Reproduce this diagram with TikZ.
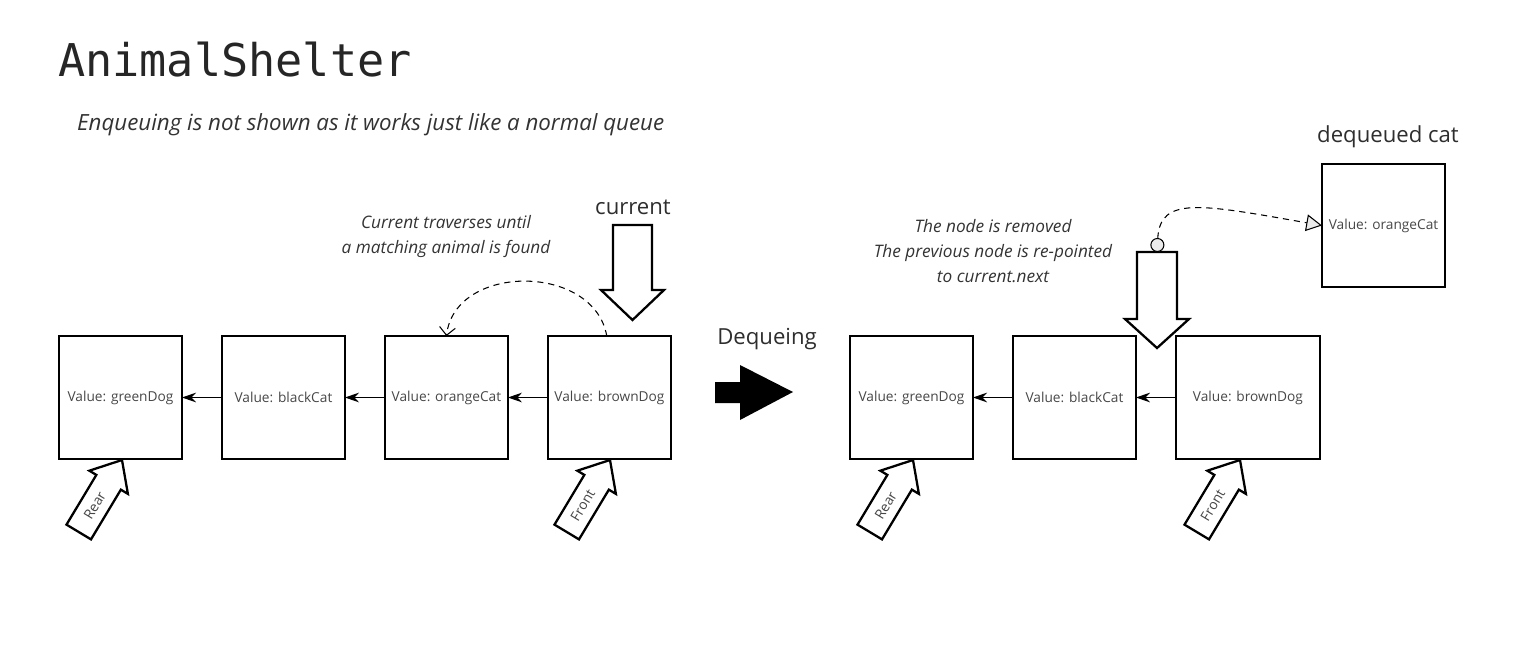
\documentclass[tikz,border=0pt]{standalone}
\usepackage{fontspec}
\setmainfont{Open Sans}
\setmonofont{DejaVu Sans Mono}
\usetikzlibrary{arrows.meta,positioning}

\tikzset{
	cell/.style={draw, line width=1.3pt, minimum width=2.46cm, minimum height=2.46cm,
		inner sep=0pt, outer sep=0pt, font=\fontsize{7.8}{9}\selectfont, text=black!72},
	link/.style={line width=0.6pt, -{Stealth[length=8pt,width=5.5pt]}},
	bigarrow/.style={draw, line width=1.3pt, fill=white, line join=miter},
	tag/.style={font=\fontsize{7.8}{9}\selectfont, text=black!72},
	note/.style={font=\fontsize{9.8}{14.2}\selectfont\itshape, text=black!80, align=center},
	heading/.style={font=\fontsize{12.6}{14}\selectfont, text=black!82},
	dashline/.style={line width=0.6pt, dash pattern=on 3.5pt off 2.8pt},
}

\begin{document}
\begin{tikzpicture}[x=0.02cm, y=0.02cm]
	\useasboundingbox (0,0) rectangle (1527,654);
	%	\draw [help lines, step=50] (0,0) grid (1527,654);
	
	% title and remark
	\node[anchor=base west, font=\ttfamily\fontsize{25.7}{28}\selectfont, text=black!85]
	(title) at (52,578) {AnimalShelter};
	\node[anchor=base west, font=\fontsize{12.7}{14}\selectfont\itshape, text=black!80]
	(remark) at (71,524) {Enqueuing is not shown as it works just like a normal queue};
	
	% queue before dequeing
	\node[cell] (greenDog) at (120.5,256.5) {Value: greenDog};
	\node[cell, right=0.8cm of greenDog] (blackCat) {Value: blackCat};
	\node[cell, right=0.8cm of blackCat] (orangeCat) {Value: orangeCat};
	\node[cell, right=0.8cm of orangeCat] (brownDog) {Value: brownDog};
	\draw[link] (blackCat.west) -- (greenDog.east);
	\draw[link] (orangeCat.west) -- (blackCat.east);
	\draw[link] (brownDog.west) -- (orangeCat.east);
	
	% current pointer (left)
	\draw[bigarrow] (613,429) -- (652,429) -- (652,364) -- (664,364)
	-- (632.5,334) -- (601,364) -- (613,364) -- cycle;
	\node[heading] (current) at (633,447) {current};
	
	% traversal
	\draw[dashline, -{Straight Barb[length=4.5pt,width=9pt]}] ([xshift=-1.5pt]brownDog.north)
	.. controls (594,391) and (455,391) .. (orangeCat.north);
	\node[note] (traverse) at (446,417.5) {Current traverses until\\a matching animal is found};
	
	% rear pointer (left)
	\begin{scope}[shift={(122,194)}, rotate=59]
		\draw[bigarrow] (0,0) -- (-26,22.5) -- (-26,14.3) -- (-84,14.3)
		-- (-84,-14.3) -- (-26,-14.3) -- (-26,-22.5) -- cycle;
		\node[tag, rotate=59] (rearA) at (-53,0) {Rear};
	\end{scope}
	
	% front pointer (left)
	\begin{scope}[shift={(610,194)}, rotate=59]
		\draw[bigarrow] (0,0) -- (-26,22.5) -- (-26,14.3) -- (-84,14.3)
		-- (-84,-14.3) -- (-26,-14.3) -- (-26,-22.5) -- cycle;
		\node[tag, rotate=59] (frontA) at (-53,0) {Front};
	\end{scope}
	
	% dequeing step
	\node[heading] (dequeing) at (767,315) {Dequeing};
	\fill (715,272) -- (740,272) -- (740,289) -- (793,262)
	-- (740,234) -- (740,251) -- (715,251) -- cycle;
	
	% queue after dequeing
	\node[cell] (greenDogB) at (911.5,256.5) {Value: greenDog};
	\node[cell, right=0.8cm of greenDogB] (blackCatB) {Value: blackCat};
	\node[cell, minimum width=2.88cm, right=0.8cm of blackCatB] (brownDogB) {Value: brownDog};
	\draw[link] (blackCatB.west) -- (greenDogB.east);
	\draw[link] (brownDogB.west) -- (blackCatB.east);
	
	% removed node
	\node[cell] (orangeCatB) at (1383.5,428.5) {Value: orangeCat};
	\node[heading] (dequeued) at (1388,517) {dequeued cat};
	
	% current pointer (right)
	\draw[bigarrow] (1137,402) -- (1177,402) -- (1177,335) -- (1189,335)
	-- (1157,306) -- (1125,335) -- (1137,335) -- cycle;
	\coordinate (curtop) at (1157,402);
	\draw[dashline, {Circle[fill=black!8,length=8pt,line width=0.6pt]}-{Triangle[fill=black!8,length=9pt,width=9.5pt,line width=0.6pt]}]
	(curtop) .. controls (1160,458) and (1200,450) .. (orangeCatB.west);
	\node[note] (removed) at (993,402.5) {The node is removed\\The previous node is re-pointed\\to current.next};
	
	% rear pointer (right)
	\begin{scope}[shift={(913,194)}, rotate=59]
		\draw[bigarrow] (0,0) -- (-26,22.5) -- (-26,14.3) -- (-84,14.3)
		-- (-84,-14.3) -- (-26,-14.3) -- (-26,-22.5) -- cycle;
		\node[tag, rotate=59] (rearB) at (-53,0) {Rear};
	\end{scope}
	
	% front pointer (right)
	\begin{scope}[shift={(1240,194)}, rotate=59]
		\draw[bigarrow] (0,0) -- (-26,22.5) -- (-26,14.3) -- (-84,14.3)
		-- (-84,-14.3) -- (-26,-14.3) -- (-26,-22.5) -- cycle;
		\node[tag, rotate=59] (frontB) at (-53,0) {Front};
	\end{scope}
\end{tikzpicture}
\end{document}
